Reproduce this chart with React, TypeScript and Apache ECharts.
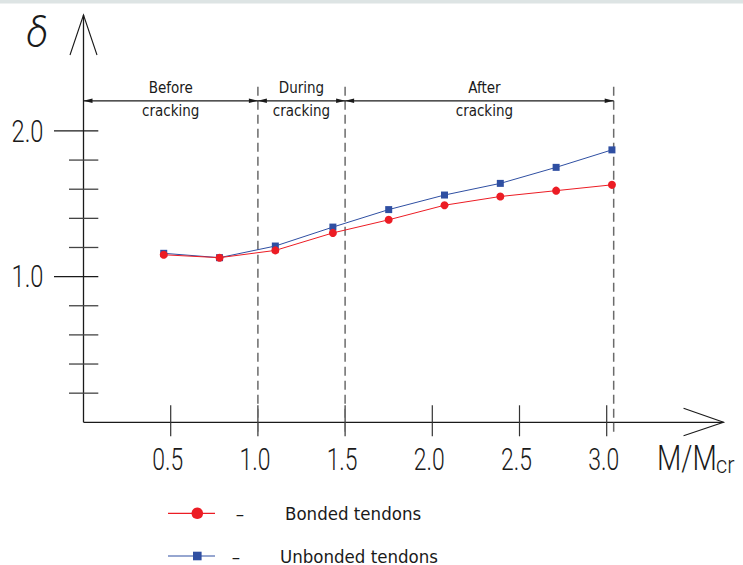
import React, { useEffect, useRef } from "react";
import * as echarts from "echarts";

// ---- data ----
const momentRatio = [0.46, 0.78, 1.1, 1.43, 1.75, 2.07, 2.39, 2.71, 3.03];
const deltaBonded = [1.15, 1.13, 1.18, 1.3, 1.39, 1.49, 1.55, 1.59, 1.63];
const deltaUnbonded = [1.16, 1.13, 1.21, 1.34, 1.46, 1.56, 1.64, 1.75, 1.87];
const seriesNames = ["Bonded tendons", "Unbonded tendons"];
const xTickValues = [0.5, 1.0, 1.5, 2.0, 2.5, 3.0];
const xTickLabels = ["0.5", "1.0", "1.5", "2.0", "2.5", "3.0"];
const yTickValues = [0.2, 0.4, 0.6, 0.8, 1.0, 1.2, 1.4, 1.6, 1.8, 2.0];
const yLabelValues = [1.0, 2.0];
const yTickLabels = ["1.0", "2.0"];
const stageBounds = [0, 1.0, 1.5, 3.04];
const stageTop = ["Before", "During", "After"];
const stageBottom = ["cracking", "cracking", "cracking"];

const RED = "#ec1c24";
const BLUE = "#2f4fa2";
const INK = "#1a1a1a";
const DASH = "#6b6b6b";
const LIGHT = "Roboto, 'DejaVu Sans', sans-serif";
const COND = "'DejaVu Sans Condensed', 'DejaVu Sans', sans-serif";

export default function App() {
  const ref = useRef<HTMLDivElement>(null);
  useEffect(() => {
    if (!ref.current) return;
    const chart = echarts.init(ref.current, undefined, { renderer: "svg" });
    const near = (v: number, list: number[]) => list.some((t) => Math.abs(v - t) < 1e-6);
    chart.setOption({
      animation: false,
      backgroundColor: "#ffffff",
      grid: {
        left: 83.5,
        top: 101.8,
        width: 610.4,
        height: 320.5,
        containLabel: false,
        outerBoundsMode: "none",
      },
      xAxis: {
        type: "value",
        min: 0,
        max: 3.5,
        interval: 0.5,
        axisLine: { show: false },
        axisTick: { show: false },
        splitLine: { show: false },
        axisLabel: { show: false },
      },
      yAxis: {
        type: "value",
        min: 0,
        max: 2.2,
        interval: 0.2,
        axisLine: { show: false },
        axisTick: { show: false },
        splitLine: { show: false },
        axisLabel: { show: false },
      },
      series: [
        {
          type: "line",
          name: seriesNames[1],
          data: momentRatio.map((x, i) => [x, deltaUnbonded[i]]),
          symbol: "rect",
          symbolSize: 7,
          itemStyle: { color: BLUE },
          lineStyle: { color: BLUE, width: 1 },
          z: 3,
        },
        {
          type: "line",
          name: seriesNames[0],
          data: momentRatio.map((x, i) => [x, deltaBonded[i]]),
          symbol: "circle",
          symbolSize: 8,
          itemStyle: { color: RED },
          lineStyle: { color: RED, width: 1 },
          z: 4,
        },
      ],
    });

    const px = (x: number, y: number) =>
      chart.convertToPixel({ gridIndex: 0 }, [x, y]) as number[];
    const g: any[] = [];
    const [ox, oy] = px(0, 0);
    // top band
    g.push({ type: "rect", shape: { x: 0, y: 0, width: 743, height: 3.5 }, style: { fill: "#dde4e4" }, silent: true });
    // axes
    const xEnd = px(3.67, 0)[0];
    const yEnd = 15;
    g.push({ type: "line", shape: { x1: ox, y1: oy, x2: xEnd, y2: oy }, style: { stroke: INK, lineWidth: 1.3 } });
    g.push({ type: "line", shape: { x1: ox, y1: oy, x2: ox, y2: yEnd }, style: { stroke: INK, lineWidth: 1.3 } });
    g.push({ type: "polyline", shape: { points: [[ox - 13.5, yEnd + 40], [ox, yEnd], [ox + 13.5, yEnd + 40]] }, style: { stroke: INK, lineWidth: 1.1, fill: null } });
    g.push({ type: "polyline", shape: { points: [[xEnd - 40, oy - 14], [xEnd, oy], [xEnd - 40, oy + 13.5]] }, style: { stroke: INK, lineWidth: 1.1, fill: null } });
    // y ticks
    yTickValues.forEach((v) => {
      const [, y] = px(0, v);
      const long = near(v, yLabelValues);
      g.push({ type: "line", shape: { x1: ox - (long ? 29.5 : 14.5), y1: y, x2: ox + 14.8, y2: y }, style: { stroke: long ? INK : "#444", lineWidth: 1.3 } });
    });
    yLabelValues.forEach((v, i) => {
      const [, y] = px(0, v);
      g.push({ type: "text", x: ox - 40, y: y, scaleX: 0.74, style: { text: yTickLabels[i], fontFamily: LIGHT, fontWeight: 300, fontSize: 32, fill: INK, align: "right", verticalAlign: "middle" } });
    });
    // x ticks
    xTickValues.forEach((v, i) => {
      const [x] = px(v, 0);
      g.push({ type: "line", shape: { x1: x, y1: oy - 17, x2: x, y2: oy + 14 }, style: { stroke: "#333", lineWidth: 1.2 } });
      g.push({ type: "text", x: x - 3, y: oy + 37, scaleX: 0.74, style: { text: xTickLabels[i], fontFamily: LIGHT, fontWeight: 300, fontSize: 31, fill: INK, align: "center", verticalAlign: "middle" } });
    });
    // stage dashed lines
    stageBounds.slice(1).forEach((b) => {
      const [x, yt] = px(b, 2.303);
      const [, yb] = px(b, -0.1);
      g.push({ type: "line", shape: { x1: x, y1: yt, x2: x, y2: yb }, style: { stroke: DASH, lineWidth: 1.5, lineDash: [9, 5] } });
    });
    // dimension line
    const dimY = px(0, 2.207)[1];
    const xa = px(stageBounds[0], 0)[0];
    const xb = px(stageBounds[stageBounds.length - 1], 0)[0];
    g.push({ type: "line", shape: { x1: xa, y1: dimY, x2: xb, y2: dimY }, style: { stroke: INK, lineWidth: 1.2 } });
    for (let i = 0; i < stageTop.length; i++) {
      const l = px(stageBounds[i], 0)[0];
      const r = px(stageBounds[i + 1], 0)[0];
      g.push({ type: "polygon", shape: { points: [[l, dimY], [l + 9, dimY - 2.2], [l + 9, dimY + 2.2]] }, style: { fill: INK } });
      g.push({ type: "polygon", shape: { points: [[r, dimY], [r - 9, dimY - 2.2], [r - 9, dimY + 2.2]] }, style: { fill: INK } });
      const cx = (l + r) / 2 + (i === 2 ? 5 : 0);
      g.push({ type: "text", x: cx, y: px(0, 2.296)[1], style: { text: stageTop[i], fontFamily: COND, fontSize: 15, fill: INK, align: "center", verticalAlign: "middle" } });
      g.push({ type: "text", x: cx, y: px(0, 2.137)[1], style: { text: stageBottom[i], fontFamily: COND, fontSize: 15, fill: INK, align: "center", verticalAlign: "middle" } });
    }
    // axis names
    g.push({ type: "text", x: 37, y: 33, style: { text: "δ", fontFamily: LIGHT, fontStyle: "italic", fontWeight: 300, fontSize: 40, fill: INK, align: "center", verticalAlign: "middle" } });
    g.push({ type: "text", x: 657, y: 458, scaleX: 0.78, style: { text: "M/M", fontFamily: LIGHT, fontWeight: 300, fontSize: 36, fill: INK, align: "left", verticalAlign: "middle" } });
    g.push({ type: "text", x: 716, y: 465, scaleX: 0.9, style: { text: "cr", fontFamily: LIGHT, fontWeight: 300, fontSize: 24, fill: INK, align: "left", verticalAlign: "middle" } });
    // legend
    const legRows = [
      { y: 513.3, color: RED, shape: "circle", dashX: 240, textX: 285, name: seriesNames[0] },
      { y: 556, color: BLUE, shape: "rect", dashX: 236, textX: 280, name: seriesNames[1] },
    ];
    legRows.forEach((row) => {
      g.push({ type: "line", shape: { x1: 168, y1: row.y, x2: 215, y2: row.y }, style: { stroke: row.color, lineWidth: 1.2 } });
      if (row.shape === "circle") {
        g.push({ type: "circle", shape: { cx: 197.3, cy: row.y, r: 5.8 }, style: { fill: row.color } });
      } else {
        g.push({ type: "rect", shape: { x: 193, y: row.y - 4.3, width: 8.6, height: 8.6 }, style: { fill: row.color } });
      }
      g.push({ type: "text", x: row.dashX, y: row.y, style: { text: "–", fontFamily: COND, fontSize: 18.5, fill: INK, align: "center", verticalAlign: "middle" } });
      g.push({ type: "text", x: row.textX, y: row.y, style: { text: row.name, fontFamily: COND, fontSize: 18.5, fill: INK, align: "left", verticalAlign: "middle" } });
    });
    chart.setOption({ graphic: g });
    return () => chart.dispose();
  }, []);
  return (
    <div
      ref={ref}
      style={{ position: "fixed", left: 0, top: 0, width: 743, height: 565, background: "#fff" }}
    />
  );
}
